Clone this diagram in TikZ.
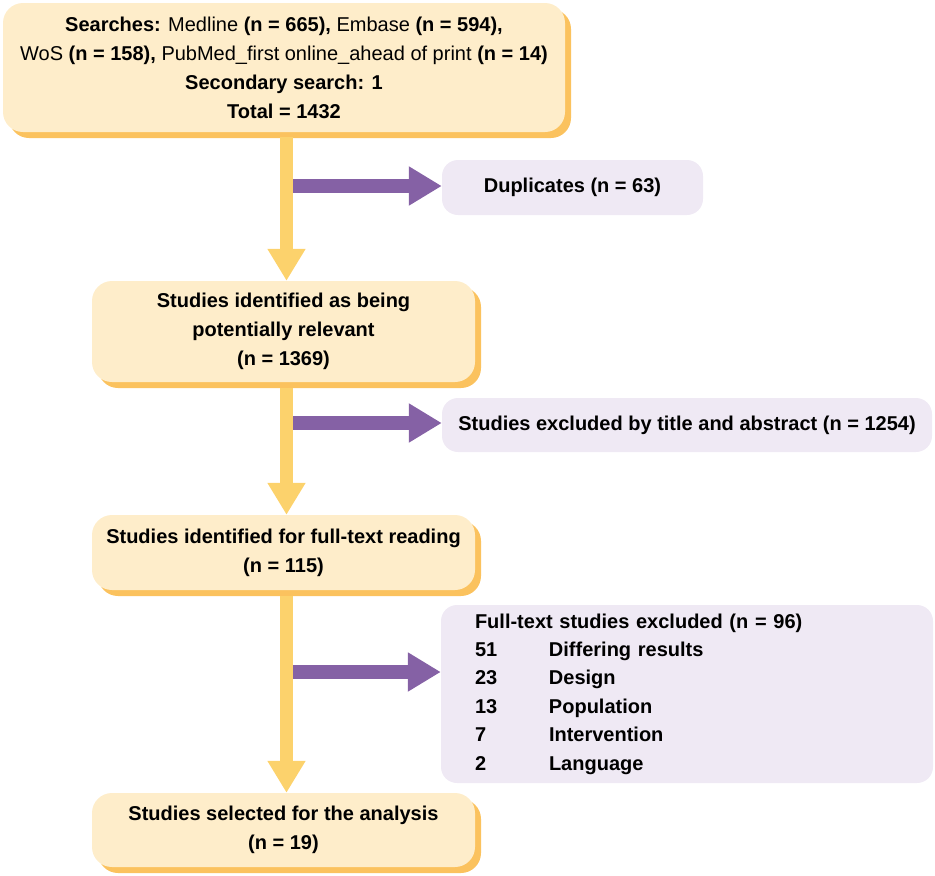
\documentclass[tikz,border=0pt]{standalone}
\usepackage{fontspec}
\setmainfont{Liberation Sans}
\usetikzlibrary{arrows.meta, shadows}
\definecolor{boxorange}{HTML}{FEEDCA}
\definecolor{shadeorange}{HTML}{FBC25E}
\definecolor{spineyellow}{HTML}{FCD26C}
\definecolor{boxlilac}{HTML}{EFE9F4}
\definecolor{arrowpurple}{HTML}{8561A5}
\tikzset{stepbox/.style={
    rounded corners=20pt, fill=boxorange, align=center,
    font=\fontsize{20}{29}\selectfont\bfseries,
    general shadow={fill=shadeorange, shadow xshift=6pt, shadow yshift=-6pt}
  },
  exclbox/.style={
    rounded corners=16pt, fill=boxlilac, align=center,
    font=\fontsize{20}{28.4}\selectfont\bfseries
  },
  downarrow/.style={
    draw=spineyellow, line width=13pt,
    -{Triangle[width=36pt, length=32pt]}
  },
  sidearrow/.style={
    draw=arrowpurple, line width=14pt,
    -{Triangle[width=37pt, length=33pt]}
  }
}
\newcommand{\rg}[1]{\textmd{#1}}

\begin{document}
\begin{tikzpicture}[x=1pt, y=-1pt]
  \useasboundingbox (0,0) rectangle (935,876);
  % main column
  \node[stepbox, minimum width=562pt, minimum height=129pt] (search) at (284,67.5)
    {Searches: \rg{Medline} (n = 665), \rg{Embase} (n = 594),\\
     \rg{WoS} (n = 158), \rg{PubMed\_first online\_ahead of print} (n = 14)\\
     Secondary search: 1\\ Total = 1432};
  \node[stepbox, minimum width=383pt, minimum height=101pt] (relevant) at (283.5,331.5)
    {Studies identified as being\\ potentially relevant\\ (n = 1369)};
  \node[stepbox, minimum width=383pt, minimum height=75pt] (fullread) at (283.5,552.5)
    {Studies identified for full-text reading\\ (n = 115)};
  \node[stepbox, minimum width=383pt, minimum height=74pt] (selected) at (283.5,830)
    {Studies selected for the analysis\\ (n = 19)};
  % exclusions
  \node[exclbox, minimum width=261pt, minimum height=55pt] (dupl) at (572.5,187.5)
    {Duplicates (n = 63)};
  \node[exclbox, minimum width=490pt, minimum height=54pt] (titleabs) at (687,425)
    {Studies excluded by title and abstract (n = 1254)};
  \node[exclbox, align=left, text width=424pt, inner xsep=34pt, minimum height=178pt] (fullexcl) at (687,694)
    {Full-text studies excluded (n = 96)\\
     \makebox[74pt][l]{51}Differing results\\
     \makebox[74pt][l]{23}Design\\
     \makebox[74pt][l]{13}Population\\
     \makebox[74pt][l]{7}Intervention\\
     \makebox[74pt][l]{2}Language};
  % connectors
  \coordinate (spine) at (286.5,0);
  \coordinate (fork1) at (293,186);
  \coordinate (fork2) at (293,423);
  \coordinate (fork3) at (293,672);
  \draw[downarrow, shorten <=5pt] (search.south -| spine) -- (relevant.north -| spine);
  \draw[downarrow, shorten <=6pt] (relevant.south -| spine) -- (fullread.north -| spine);
  \draw[downarrow, shorten <=6pt] (fullread.south -| spine) -- (selected.north -| spine);
  \draw[sidearrow] (fork1) -- (fork1 -| dupl.west);
  \draw[sidearrow] (fork2) -- (fork2 -| titleabs.west);
  \draw[sidearrow] (fork3) -- (fork3 -| fullexcl.west);
\end{tikzpicture}
\end{document}
